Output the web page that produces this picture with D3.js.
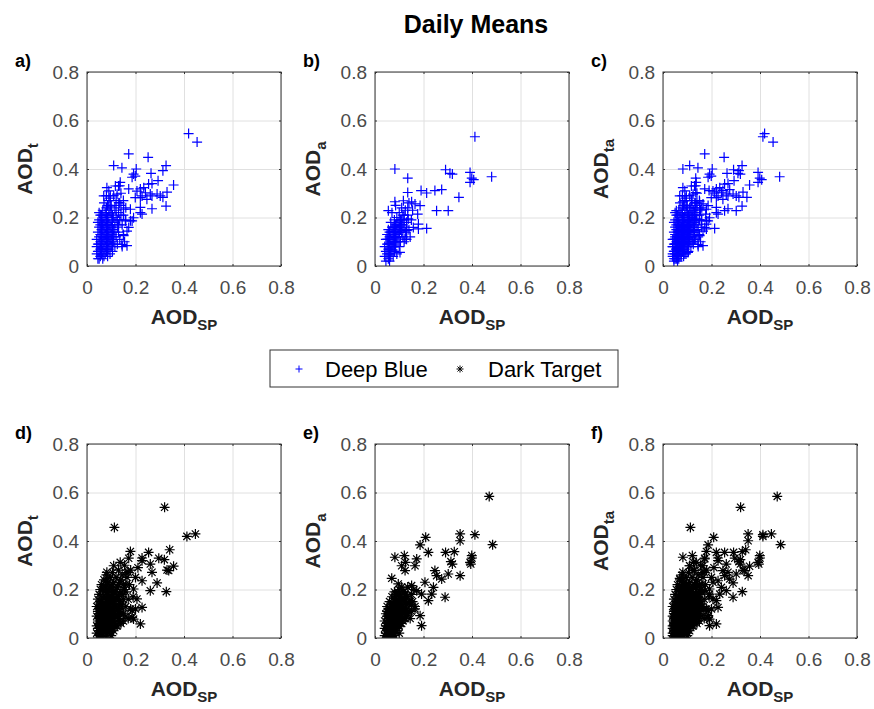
<!DOCTYPE html>
<html>
<head>
<meta charset="utf-8">
<script src="https://cdn.jsdelivr.net/npm/d3@7"></script>
<style>
  body { margin: 0; background: #fff; }
  svg { display: block; font-family: "Liberation Sans", Arial, sans-serif; }
</style>
</head>
<body>
<div id="chart"></div>
<script>
// Deep Blue, Terra  [AOD_SP, AOD_t]
var dbTerra = [
  [0.04,0.05],[0.04,0.08],[0.04,0.11],[0.045,0.14],[0.045,0.03],[0.05,0.06],[0.05,0.09],[0.05,0.12],[0.05,0.16],[0.05,0.19],
  [0.055,0.04],[0.055,0.07],[0.055,0.10],[0.055,0.13],[0.055,0.21],[0.06,0.05],[0.06,0.08],[0.06,0.11],[0.06,0.15],[0.06,0.18],
  [0.065,0.03],[0.065,0.06],[0.065,0.09],[0.065,0.12],[0.065,0.17],[0.065,0.23],[0.07,0.04],[0.07,0.07],[0.07,0.10],[0.07,0.14],
  [0.07,0.20],[0.07,0.26],[0.075,0.05],[0.075,0.08],[0.075,0.11],[0.075,0.16],[0.075,0.22],[0.08,0.06],[0.08,0.09],[0.08,0.13],
  [0.08,0.18],[0.08,0.24],[0.08,0.29],[0.085,0.04],[0.085,0.10],[0.085,0.15],[0.085,0.20],[0.09,0.07],[0.09,0.12],[0.09,0.17],
  [0.09,0.27],[0.09,0.31],[0.095,0.05],[0.095,0.09],[0.095,0.14],[0.095,0.22],[0.10,0.08],[0.10,0.11],[0.10,0.16],[0.10,0.19],
  [0.10,0.25],[0.105,0.06],[0.105,0.13],[0.105,0.21],[0.11,0.10],[0.11,0.15],[0.11,0.29],[0.115,0.08],[0.115,0.18],[0.115,0.24],
  [0.12,0.12],[0.12,0.20],[0.12,0.27],[0.125,0.09],[0.125,0.16],[0.13,0.14],[0.13,0.22],[0.13,0.33],[0.135,0.11],[0.135,0.19],
  [0.14,0.25],[0.14,0.30],[0.145,0.08],[0.145,0.17],[0.15,0.13],[0.15,0.21],[0.15,0.27],[0.155,0.10],[0.16,0.19],[0.16,0.24],
  [0.045,0.06],[0.045,0.09],[0.05,0.03],[0.055,0.17],[0.06,0.13],[0.06,0.21],[0.065,0.15],[0.065,0.19],[0.07,0.12],[0.07,0.17],
  [0.075,0.13],[0.075,0.19],[0.08,0.11],[0.08,0.15],[0.08,0.21],[0.085,0.07],[0.085,0.13],[0.085,0.17],[0.085,0.25],[0.09,0.10],
  [0.09,0.14],[0.09,0.20],[0.09,0.23],[0.095,0.11],[0.095,0.17],[0.095,0.28],[0.10,0.13],[0.10,0.22],[0.105,0.09],[0.105,0.17],
  [0.11,0.12],[0.11,0.20],[0.115,0.14],[0.12,0.23],[0.125,0.19],[0.13,0.17],[0.135,0.26],[0.14,0.21],[0.045,0.18],[0.05,0.22],
  [0.419,0.546],[0.454,0.511],[0.172,0.462],[0.252,0.448],[0.110,0.414],[0.144,0.405],[0.326,0.414],[0.313,0.393],[0.203,0.400],
  [0.264,0.382],[0.186,0.366],[0.192,0.379],[0.293,0.352],[0.357,0.334],[0.137,0.345],[0.172,0.318],[0.220,0.318],[0.254,0.338],
  [0.135,0.331],[0.330,0.305],[0.326,0.247],[0.268,0.236],[0.220,0.220],[0.192,0.199],[0.186,0.186],[0.165,0.144],[0.144,0.089],
  [0.172,0.159],[0.151,0.125],[0.165,0.084],[0.179,0.187],[0.227,0.214],[0.220,0.242],[0.313,0.283],[0.289,0.297],[0.261,0.297],
  [0.268,0.289],[0.302,0.289],[0.234,0.323],[0.268,0.340],[0.206,0.309],[0.227,0.289],[0.241,0.302],[0.247,0.275],[0.082,0.323],
  [0.069,0.289],[0.096,0.289],[0.124,0.296],[0.096,0.247],[0.131,0.261],[0.151,0.234],[0.158,0.186],[0.179,0.234],[0.199,0.282],
  [0.220,0.282],[0.199,0.371],[0.117,0.330]
];

// Deep Blue, Aqua  [AOD_SP, AOD_a]
var dbAqua = [
  [0.04,0.04],[0.04,0.08],[0.045,0.11],[0.045,0.02],[0.05,0.05],[0.05,0.09],[0.05,0.13],[0.055,0.03],[0.055,0.07],[0.055,0.11],
  [0.055,0.15],[0.06,0.05],[0.06,0.09],[0.06,0.12],[0.06,0.02],[0.065,0.04],[0.065,0.08],[0.065,0.14],[0.065,0.18],[0.07,0.06],
  [0.07,0.10],[0.07,0.13],[0.07,0.22],[0.075,0.04],[0.075,0.08],[0.075,0.12],[0.075,0.16],[0.08,0.06],[0.08,0.10],[0.08,0.14],
  [0.08,0.19],[0.085,0.08],[0.085,0.12],[0.085,0.17],[0.085,0.25],[0.09,0.05],[0.09,0.10],[0.09,0.15],[0.09,0.20],[0.095,0.13],
  [0.095,0.18],[0.10,0.08],[0.10,0.12],[0.10,0.16],[0.10,0.22],[0.105,0.10],[0.105,0.19],[0.11,0.14],[0.11,0.17],[0.11,0.24],
  [0.115,0.12],[0.115,0.21],[0.12,0.10],[0.12,0.16],[0.12,0.19],[0.125,0.14],[0.125,0.23],[0.13,0.11],[0.13,0.18],[0.135,0.21],
  [0.14,0.15],[0.14,0.26],[0.145,0.12],[0.15,0.19],[0.155,0.23],
  [0.045,0.06],[0.05,0.11],[0.055,0.09],[0.06,0.07],[0.06,0.14],[0.065,0.06],[0.065,0.11],[0.07,0.08],[0.07,0.16],[0.075,0.10],
  [0.075,0.14],[0.08,0.08],[0.08,0.12],[0.08,0.16],[0.085,0.10],[0.085,0.14],[0.09,0.12],[0.09,0.17],[0.095,0.10],[0.095,0.15],
  [0.10,0.14],[0.10,0.18],[0.105,0.15],[0.11,0.19],[0.115,0.17],[0.12,0.21],[0.13,0.15],[0.135,0.24],
  [0.412,0.533],[0.082,0.400],[0.135,0.362],[0.291,0.397],[0.309,0.382],[0.319,0.379],[0.392,0.386],[0.399,0.362],[0.407,0.356],
  [0.481,0.368],[0.392,0.345],[0.275,0.315],[0.247,0.311],[0.213,0.301],[0.190,0.311],[0.135,0.303],[0.346,0.283],[0.254,0.228],
  [0.302,0.228],[0.055,0.228],[0.082,0.265],[0.117,0.269],[0.151,0.265],[0.165,0.256],[0.186,0.249],[0.176,0.214],[0.179,0.173],
  [0.213,0.155],[0.179,0.153],[0.137,0.194],[0.158,0.159],[0.131,0.146],[0.124,0.111],[0.103,0.056]
];

// Dark Target, Terra  [AOD_SP, AOD_t]
var dtTerra = [
  [0.04,0.02],[0.04,0.05],[0.04,0.09],[0.04,0.13],[0.045,0.0],[0.045,0.07],[0.045,0.11],[0.045,0.16],[0.05,0.03],[0.05,0.06],
  [0.05,0.10],[0.05,0.14],[0.05,0.18],[0.055,0.01],[0.055,0.04],[0.055,0.08],[0.055,0.12],[0.055,0.20],[0.06,0.02],[0.06,0.06],
  [0.06,0.10],[0.06,0.15],[0.06,0.22],[0.065,0.0],[0.065,0.04],[0.065,0.08],[0.065,0.13],[0.065,0.17],[0.07,0.02],[0.07,0.06],
  [0.07,0.11],[0.07,0.19],[0.07,0.24],[0.075,0.04],[0.075,0.09],[0.075,0.14],[0.075,0.21],[0.08,0.0],[0.08,0.03],[0.08,0.07],
  [0.08,0.12],[0.08,0.16],[0.08,0.26],[0.085,0.05],[0.085,0.10],[0.085,0.18],[0.085,0.23],[0.09,0.02],[0.09,0.08],[0.09,0.13],
  [0.09,0.20],[0.095,0.06],[0.095,0.11],[0.095,0.16],[0.095,0.25],[0.10,0.01],[0.10,0.04],[0.10,0.09],[0.10,0.14],[0.10,0.21],
  [0.105,0.07],[0.105,0.12],[0.105,0.18],[0.105,0.27],[0.11,0.03],[0.11,0.10],[0.11,0.15],[0.11,0.23],[0.115,0.06],[0.115,0.13],
  [0.115,0.19],[0.12,0.09],[0.12,0.16],[0.12,0.25],[0.125,0.05],[0.125,0.12],[0.125,0.21],[0.13,0.08],[0.13,0.17],[0.13,0.28],
  [0.135,0.11],[0.135,0.23],[0.14,0.06],[0.14,0.14],[0.14,0.19],[0.145,0.26],[0.15,0.10],[0.15,0.16],[0.15,0.22],[0.155,0.30],
  [0.16,0.13],[0.16,0.19],[0.165,0.25],[0.17,0.08],[0.17,0.16],[0.175,0.22],[0.18,0.28],[0.18,0.12],
  [0.045,0.04],[0.05,0.08],[0.05,0.12],[0.055,0.06],[0.055,0.15],[0.06,0.04],[0.06,0.08],[0.06,0.12],[0.065,0.06],[0.065,0.10],
  [0.065,0.20],[0.07,0.04],[0.07,0.08],[0.07,0.14],[0.075,0.06],[0.075,0.11],[0.075,0.17],[0.08,0.05],[0.08,0.09],[0.08,0.14],
  [0.08,0.20],[0.085,0.03],[0.085,0.08],[0.085,0.13],[0.09,0.05],[0.09,0.10],[0.09,0.16],[0.09,0.23],[0.095,0.03],[0.095,0.09],
  [0.095,0.13],[0.095,0.19],[0.10,0.07],[0.10,0.11],[0.10,0.17],[0.105,0.04],[0.105,0.15],[0.105,0.22],[0.11,0.07],[0.11,0.13],
  [0.11,0.19],[0.115,0.10],[0.115,0.16],[0.12,0.05],[0.12,0.13],[0.12,0.20],[0.125,0.09],[0.125,0.17],[0.13,0.12],[0.13,0.22],
  [0.135,0.07],[0.135,0.15],[0.14,0.10],[0.14,0.24],[0.145,0.13],[0.145,0.18],[0.15,0.07],[0.155,0.20],[0.16,0.09],[0.16,0.27],
  [0.320,0.539],[0.113,0.456],[0.412,0.419],[0.447,0.429],[0.341,0.364],[0.254,0.353],[0.227,0.319],[0.296,0.329],[0.319,0.323],
  [0.261,0.305],[0.268,0.271],[0.330,0.280],[0.357,0.296],[0.172,0.329],[0.137,0.312],[0.110,0.298],[0.082,0.271],[0.076,0.232],
  [0.289,0.227],[0.327,0.191],[0.261,0.195],[0.227,0.236],[0.227,0.126],[0.220,0.058],[0.186,0.085],[0.206,0.161],[0.192,0.202],
  [0.192,0.078],[0.186,0.113],[0.337,0.278],[0.179,0.357],[0.227,0.330],[0.200,0.250],[0.210,0.290],[0.170,0.270],[0.160,0.220],
  [0.190,0.170],[0.200,0.120]
];

// Dark Target, Aqua  [AOD_SP, AOD_a]
var dtAqua = [
  [0.04,0.01],[0.04,0.04],[0.04,0.07],[0.045,0.02],[0.045,0.10],[0.05,0.0],[0.05,0.03],[0.05,0.06],[0.05,0.09],[0.05,0.13],
  [0.055,0.01],[0.055,0.05],[0.055,0.11],[0.06,0.0],[0.06,0.03],[0.06,0.07],[0.06,0.10],[0.06,0.15],[0.065,0.02],[0.065,0.05],
  [0.065,0.09],[0.065,0.13],[0.07,0.0],[0.07,0.04],[0.07,0.07],[0.07,0.11],[0.07,0.17],[0.075,0.02],[0.075,0.06],[0.075,0.09],
  [0.075,0.14],[0.08,0.01],[0.08,0.04],[0.08,0.08],[0.08,0.12],[0.08,0.19],[0.085,0.06],[0.085,0.10],[0.085,0.15],[0.09,0.03],
  [0.09,0.08],[0.09,0.13],[0.09,0.18],[0.095,0.05],[0.095,0.11],[0.095,0.16],[0.10,0.02],[0.10,0.08],[0.10,0.14],[0.10,0.20],
  [0.105,0.06],[0.105,0.11],[0.105,0.17],[0.11,0.09],[0.11,0.13],[0.11,0.21],[0.115,0.07],[0.115,0.16],[0.12,0.11],[0.12,0.19],
  [0.125,0.08],[0.125,0.14],[0.13,0.12],[0.13,0.17],[0.135,0.10],[0.135,0.21],[0.14,0.14],[0.145,0.08],[0.15,0.18],[0.15,0.11],
  [0.155,0.15],[0.16,0.20],[0.165,0.13],
  [0.045,0.05],[0.05,0.11],[0.055,0.03],[0.055,0.08],[0.06,0.05],[0.06,0.12],[0.065,0.07],[0.065,0.11],[0.07,0.02],[0.07,0.09],
  [0.07,0.14],[0.075,0.04],[0.075,0.11],[0.08,0.06],[0.08,0.10],[0.08,0.15],[0.085,0.03],[0.085,0.08],[0.085,0.12],[0.085,0.18],
  [0.09,0.06],[0.09,0.10],[0.09,0.15],[0.095,0.08],[0.095,0.13],[0.095,0.19],[0.10,0.05],[0.10,0.11],[0.10,0.17],[0.105,0.09],
  [0.105,0.14],[0.11,0.06],[0.11,0.11],[0.11,0.16],[0.115,0.12],[0.115,0.19],[0.12,0.08],[0.12,0.15],[0.125,0.11],[0.125,0.18],
  [0.13,0.09],[0.13,0.14],[0.135,0.17],[0.14,0.11],[0.145,0.15],[0.15,0.14],
  [0.471,0.584],[0.485,0.385],[0.412,0.426],[0.351,0.429],[0.351,0.401],[0.209,0.415],[0.186,0.384],[0.220,0.353],[0.291,0.353],
  [0.327,0.356],[0.313,0.315],[0.319,0.305],[0.399,0.340],[0.392,0.312],[0.351,0.257],[0.302,0.264],[0.275,0.243],[0.247,0.278],
  [0.254,0.257],[0.082,0.333],[0.121,0.340],[0.126,0.312],[0.172,0.326],[0.165,0.298],[0.110,0.298],[0.124,0.278],[0.069,0.246],
  [0.096,0.223],[0.206,0.230],[0.241,0.209],[0.234,0.181],[0.289,0.168],[0.220,0.154],[0.192,0.181],[0.172,0.195],[0.151,0.216],
  [0.192,0.051],[0.186,0.092],[0.165,0.120],[0.395,0.305],[0.400,0.330]
];

var tickValues = [0, 0.2, 0.4, 0.6, 0.8];
var tickLabels = ["0", "0.2", "0.4", "0.6", "0.8"];
var panelLabels = ["a)", "b)", "c)", "d)", "e)", "f)"];
var ySubs = ["t", "a", "ta", "t", "a", "ta"];
var legendNames = ["Deep Blue", "Dark Target"];

var width = 874, height = 709;
var size = 194;
var colX = [87, 375, 663];
var rowY = [72, 444];
var axisColor = "#333";

var svg = d3.select("#chart").append("svg")
  .attr("width", width)
  .attr("height", height);

// + and * marker paths
var plusPath = "M-5,0H5M0,-5V5";
var starPath = "M-5,0H5M0,-5V5M-3.6,-3.6L3.6,3.6M-3.6,3.6L3.6,-3.6";

var panels = [
  { data: dbTerra, marker: plusPath, color: "#0000ff" },
  { data: dbAqua, marker: plusPath, color: "#0000ff" },
  { data: dbTerra.concat(dbAqua), marker: plusPath, color: "#0000ff" },
  { data: dtTerra, marker: starPath, color: "#000" },
  { data: dtAqua, marker: starPath, color: "#000" },
  { data: dtTerra.concat(dtAqua), marker: starPath, color: "#000" }
];

svg.append("text")
  .attr("x", 476).attr("y", 33)
  .attr("text-anchor", "middle")
  .attr("font-size", 25).attr("font-weight", "bold")
  .attr("fill", "#000")
  .text("Daily Means");

panels.forEach(function(p, i) {
  var left = colX[i % 3], top = rowY[Math.floor(i / 3)];
  var x = d3.scaleLinear().domain([0, 0.8]).range([0, size]);
  var y = d3.scaleLinear().domain([0, 0.8]).range([size, 0]);

  var g = svg.append("g").attr("transform", "translate(" + left + "," + top + ")");

  // grid
  g.append("g")
    .attr("transform", "translate(0," + size + ")")
    .call(d3.axisBottom(x).tickValues(tickValues).tickSize(-size).tickFormat(""))
    .call(s => s.select(".domain").remove())
    .selectAll("line").attr("stroke", "#e0e0e0");
  g.append("g")
    .call(d3.axisLeft(y).tickValues(tickValues).tickSize(-size).tickFormat(""))
    .call(s => s.select(".domain").remove())
    .selectAll("line").attr("stroke", "#e0e0e0");

  // markers
  var clipId = "clip" + i;
  g.append("clipPath").attr("id", clipId)
    .append("rect").attr("width", size).attr("height", size);
  g.append("g").attr("clip-path", "url(#" + clipId + ")")
    .selectAll("path")
    .data(p.data)
    .enter().append("path")
    .attr("transform", d => "translate(" + x(d[0]) + "," + y(d[1]) + ")")
    .attr("d", p.marker)
    .attr("fill", "none")
    .attr("stroke", p.color)
    .attr("stroke-width", 1.2);

  // box
  g.append("rect")
    .attr("width", size).attr("height", size)
    .attr("fill", "none").attr("stroke", axisColor).attr("stroke-width", 1);

  // axes with inward ticks
  var fmt = d => tickLabels[tickValues.indexOf(d)];
  var tickAxes = [
    g.append("g").attr("transform", "translate(0," + size + ")")
      .call(d3.axisBottom(x).tickValues(tickValues).tickSizeInner(-2).tickSizeOuter(0).tickPadding(15).tickFormat(fmt)),
    g.append("g")
      .call(d3.axisLeft(y).tickValues(tickValues).tickSizeInner(-2).tickSizeOuter(0).tickPadding(8).tickFormat(fmt)),
    g.append("g").attr("transform", "translate(" + size + ",0)")
      .call(d3.axisRight(y).tickValues(tickValues).tickSizeInner(-2).tickSizeOuter(0).tickFormat("")),
    g.append("g")
      .call(d3.axisTop(x).tickValues(tickValues).tickSizeInner(-2).tickSizeOuter(0).tickFormat(""))
  ];
  tickAxes.forEach(function(a) {
    a.select(".domain").remove();
    a.selectAll(".tick line").attr("stroke", axisColor);
    a.selectAll("text")
      .attr("font-size", 19)
      .attr("font-family", "'Liberation Sans', Arial, sans-serif")
      .attr("fill", "#4a4a4a");
  });

  // x label
  var xl = g.append("text")
    .attr("x", size / 2).attr("y", size + 58)
    .attr("text-anchor", "middle")
    .attr("font-size", 21).attr("font-weight", "bold").attr("fill", "#262626");
  xl.append("tspan").text("AOD");
  xl.append("tspan").attr("font-size", 15).attr("dy", 6).text("SP");

  // y label
  var yl = g.append("text")
    .attr("transform", "translate(-55," + (size / 2) + ") rotate(-90)")
    .attr("text-anchor", "middle")
    .attr("font-size", 21).attr("font-weight", "bold").attr("fill", "#262626");
  yl.append("tspan").text("AOD");
  yl.append("tspan").attr("font-size", 15).attr("dy", 6).text(ySubs[i]);

  // panel letter
  g.append("text")
    .attr("x", -72).attr("y", -5)
    .attr("font-size", 18).attr("font-weight", "bold").attr("fill", "#000")
    .text(panelLabels[i]);
});

// legend
var leg = svg.append("g").attr("transform", "translate(270,350)");
leg.append("rect")
  .attr("width", 348).attr("height", 37)
  .attr("fill", "#fff").attr("stroke", axisColor).attr("stroke-width", 1);
var legendItems = [
  { m: "M-3.5,0H3.5M0,-3.5V3.5", c: "#0000ff", mx: 29, tx: 55 },
  { m: "M-3.5,0H3.5M0,-3.5V3.5M-2.5,-2.5L2.5,2.5M-2.5,2.5L2.5,-2.5", c: "#000", mx: 190, tx: 218 }
];
legendItems.forEach(function(e, k) {
  leg.append("path")
    .attr("transform", "translate(" + e.mx + ",19)")
    .attr("d", e.m)
    .attr("fill", "none").attr("stroke", e.c).attr("stroke-width", 1);
  leg.append("text")
    .attr("x", e.tx).attr("y", 27)
    .attr("font-size", 22).attr("fill", "#000")
    .text(legendNames[k]);
});
</script>
</body>
</html>
